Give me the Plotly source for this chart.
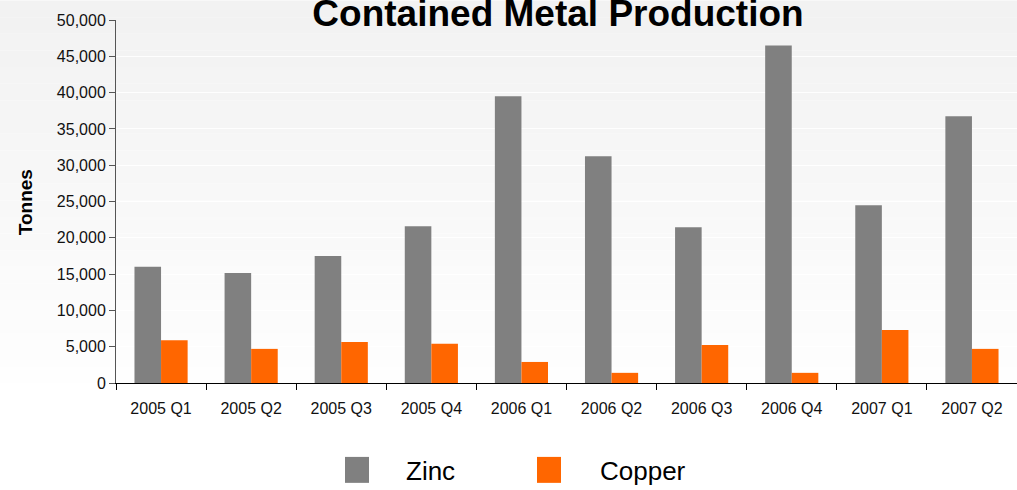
import plotly.graph_objects as go

quarters = ["2005 Q1", "2005 Q2", "2005 Q3", "2005 Q4", "2006 Q1",
            "2006 Q2", "2006 Q3", "2006 Q4", "2007 Q1", "2007 Q2"]
zinc = [16000, 15150, 17500, 21600, 39500, 31250, 21450, 46500, 24500, 36750]
copper = [5900, 4700, 5650, 5400, 2900, 1400, 5250, 1400, 7300, 4700]

ZINC_COLOR = "#808080"
COPPER_COLOR = "#FF6600"
FONT = "Liberation Sans, Arial, sans-serif"

W, H = 1017, 490
L, R, T, B = 116, 0, 19.5, 107
plot_w = W - L - R
plot_h = H - T - B


def px_x(px):
    return (px - L) / plot_w


def px_y(py):
    return (H - B - py) / plot_h


fig = go.Figure()

fig.add_trace(go.Bar(x=quarters, y=zinc, name="Zinc",
                     marker=dict(color=ZINC_COLOR, line=dict(width=0)),
                     showlegend=False))
fig.add_trace(go.Bar(x=quarters, y=copper, name="Copper",
                     marker=dict(color=COPPER_COLOR, line=dict(width=0)),
                     showlegend=False))

# soft grey-to-white background gradient
shapes = []
bands = 24
top_px, bottom_px = 0, 400
for i in range(bands):
    y0 = top_px + (bottom_px - top_px) * i / bands
    y1 = top_px + (bottom_px - top_px) * (i + 1) / bands
    g = int(242 + 13 * i / (bands - 1))
    shapes.append(dict(type="rect", xref="paper", yref="paper",
                       x0=px_x(0), x1=px_x(W), y0=px_y(y1), y1=px_y(y0),
                       fillcolor=f"rgb({g},{g},{g})", line=dict(width=0),
                       layer="below"))

# legend drawn by hand (big squares)
legend_items = [("Zinc", ZINC_COLOR, 345, 406), ("Copper", COPPER_COLOR, 537, 600)]
annotations = []
for label, color, sq_x, txt_x in legend_items:
    shapes.append(dict(type="rect", xref="paper", yref="paper",
                       x0=px_x(sq_x), x1=px_x(sq_x + 24),
                       y0=px_y(483), y1=px_y(457),
                       fillcolor=color, line=dict(width=0)))
    annotations.append(dict(text=label, xref="paper", yref="paper",
                            x=px_x(txt_x - 2), y=px_y(471), xanchor="left",
                            yanchor="middle", showarrow=False,
                            font=dict(family=FONT, size=26, color="#000")))

annotations.append(dict(text="<b>Tonnes</b>", xref="paper", yref="paper",
                        x=px_x(25), y=px_y(202), textangle=-90,
                        xanchor="center", yanchor="middle", showarrow=False,
                        font=dict(family=FONT, size=19, color="#000")))

fig.update_layout(
    width=W, height=H,
    margin=dict(l=L, r=R, t=T, b=B),
    paper_bgcolor="white",
    plot_bgcolor="rgba(0,0,0,0)",
    barmode="group",
    bargap=0.41,
    bargroupgap=0,
    showlegend=False,
    title=dict(text="<b>Contained Metal Production</b>",
               x=558 / W, xanchor="center",
               y=1 - 13 / H, yanchor="middle",
               font=dict(family=FONT, size=37, color="#000")),
    xaxis=dict(
        showline=True, linecolor="#000", linewidth=1,
        ticks="outside", tickson="boundaries", ticklen=6, tickcolor="#000",
        tickfont=dict(family=FONT, size=16, color="#111"),
        ticklabelstandoff=11,
        showgrid=False,
    ),
    yaxis=dict(
        range=[0, 50000], dtick=5000, tickformat=",",
        showline=True, linecolor="#555", linewidth=1,
        ticks="outside", ticklen=6, tickcolor="#555",
        tickfont=dict(family=FONT, size=16, color="#111"),
        showgrid=True, gridcolor="rgba(255,255,255,0.9)", gridwidth=1,
        zeroline=False,
    ),
    shapes=shapes,
    annotations=annotations,
)

fig.write_html("out.html", config={"displayModeBar": False},
               post_script="document.body.style.margin='0';document.body.style.overflow='hidden';")
